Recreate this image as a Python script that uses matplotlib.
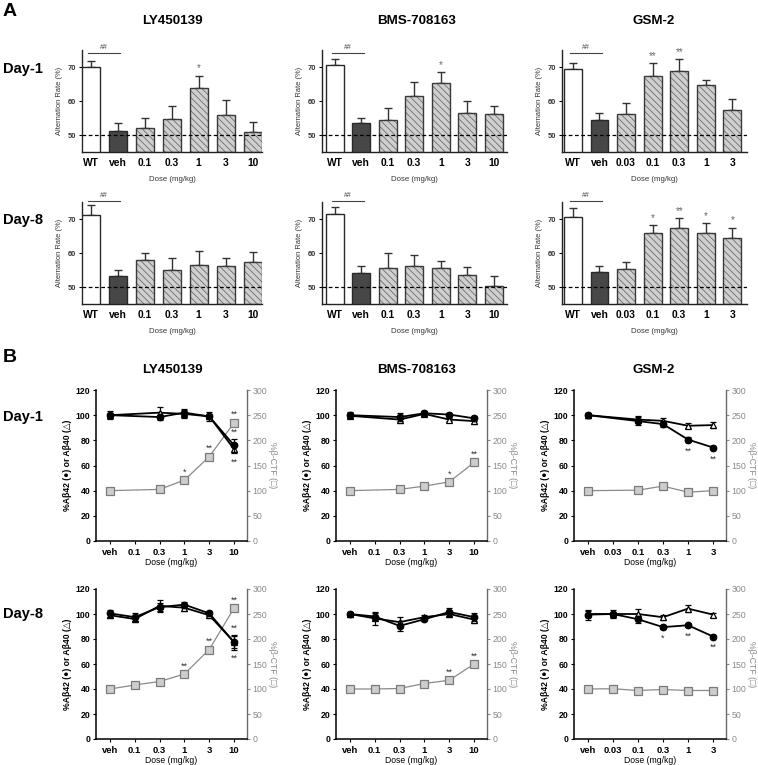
import matplotlib
matplotlib.use('Agg')
import matplotlib.pyplot as plt
import numpy as np

plt.rcParams['font.family'] = ['Liberation Sans', 'DejaVu Sans']
plt.rcParams['hatch.linewidth'] = 0.6
plt.rcParams['hatch.color'] = '#6e6e6e'

nan = np.nan

# ---------------- Panel A data (Alternation rate, %) ----------------
ly_doses_A = ['WT', 'veh', '0.1', '0.3', '1', '3', '10']
bms_doses_A = ['WT', 'veh', '0.1', '0.3', '1', '3', '10']
gsm_doses_A = ['WT', 'veh', '0.03', '0.1', '0.3', '1', '3']

ly_d1_mean = [70.0, 51.1, 52.0, 54.7, 63.9, 56.0, 51.0]
ly_d1_err = [1.8, 2.4, 3.1, 3.7, 3.6, 4.4, 2.9]
ly_d1_sig = ['', '', '', '', '*', '', '']

bms_d1_mean = [70.5, 53.4, 54.4, 61.4, 65.3, 56.4, 56.2]
bms_d1_err = [1.8, 1.6, 3.6, 4.2, 3.2, 3.7, 2.2]
bms_d1_sig = ['', '', '', '', '*', '', '']

gsm_d1_mean = [69.5, 54.5, 56.2, 67.5, 68.9, 64.6, 57.5]
gsm_d1_err = [1.7, 2.0, 3.2, 3.7, 3.5, 1.5, 3.0]
gsm_d1_sig = ['', '', '', '**', '**', '', '']

ly_d8_mean = [71.1, 53.2, 57.9, 55.1, 56.5, 56.2, 57.5]
ly_d8_err = [2.9, 1.8, 2.1, 3.3, 4.0, 2.4, 2.8]
ly_d8_sig = ['', '', '', '', '', '', '']

bms_d8_mean = [71.6, 54.2, 55.7, 56.1, 55.6, 53.6, 50.4]
bms_d8_err = [1.8, 2.1, 4.2, 3.3, 2.1, 2.4, 2.7]
bms_d8_sig = ['', '', '', '', '', '', '']

gsm_d8_mean = [70.5, 54.3, 55.2, 66.0, 67.5, 66.0, 64.3]
gsm_d8_err = [2.6, 2.0, 2.3, 2.2, 2.9, 2.8, 3.2]
gsm_d8_sig = ['', '', '', '*', '**', '*', '*']

# ---------------- Panel B data ----------------
ly_doses_B = ['veh', '0.1', '0.3', '1', '3', '10']
bms_doses_B = ['veh', '0.1', '0.3', '1', '3', '10']
gsm_doses_B = ['veh', '0.03', '0.1', '0.3', '1', '3']

# Day-1
ly_d1_ab42 = [100, nan, 98.5, 102, 99, 76]
ly_d1_ab42_err = [2, nan, 2, 3, 2, 5]
ly_d1_ab40 = [100, nan, 102, 101, 99, 73]
ly_d1_ab40_err = [3, nan, 4.5, 3.5, 3.5, 3]
ly_d1_ctf = [100, nan, 102.5, 121, 167.5, 235]
ly_d1_ctf_sig = ['', '', '', '*', '**', '**']
ly_d1_ab42_sig = ['', '', '', '', '', '**']
ly_d1_ab40_sig = ['', '', '', '', '', '**']

bms_d1_ab42 = [100, nan, 98.5, 101.5, 100.5, 97.5]
bms_d1_ab42_err = [2.5, nan, 3, 2, 1, 2]
bms_d1_ab40 = [99.5, nan, 96.5, 101, 96.5, 95.3]
bms_d1_ab40_err = [2, nan, 3, 2, 1.5, 2.5]
bms_d1_ctf = [100, nan, 102.5, 109, 117.5, 156]
bms_d1_ctf_sig = ['', '', '', '', '*', '**']
bms_d1_ab42_sig = ['', '', '', '', '', '']
bms_d1_ab40_sig = ['', '', '', '', '', '']

gsm_d1_ab42 = [100, nan, 95.3, 92.9, 80.6, 74.3]
gsm_d1_ab42_err = [2, nan, 3, 2.5, 2, 1.5]
gsm_d1_ab40 = [100, nan, 96.5, 95.5, 91.6, 92.1]
gsm_d1_ab40_err = [2, nan, 2.5, 2.5, 2, 2.5]
gsm_d1_ctf = [100, nan, 101, 109, 97, 100]
gsm_d1_ctf_sig = ['', '', '', '', '', '']
gsm_d1_ab42_sig = ['', '', '', '', '**', '**']
gsm_d1_ab40_sig = ['', '', '', '', '', '']

# Day-8
ly_d8_ab42 = [100.5, 97.5, 105.5, 107.5, 100.5, 77.4]
ly_d8_ab42_err = [3, 3, 3, 2, 2, 6]
ly_d8_ab40 = [99, 96, 106.5, 105, 99, 77.5]
ly_d8_ab40_err = [2, 2.5, 5, 2.5, 2, 5]
ly_d8_ctf = [100, 108, 115, 130, 179, 262]
ly_d8_ctf_sig = ['', '', '', '**', '**', '**']
ly_d8_ab42_sig = ['', '', '', '', '', '**']
ly_d8_ab40_sig = ['', '', '', '', '', '**']

bms_d8_ab42 = [100, 98, 90.5, 95.8, 101.6, 97.5]
bms_d8_ab42_err = [2, 2.5, 4, 1.5, 3.5, 3]
bms_d8_ab40 = [100, 96.5, 93.5, 97.5, 100, 95.5]
bms_d8_ab40_err = [1.5, 5, 4, 1.5, 2.5, 3]
bms_d8_ctf = [100, 100, 101, 111, 117.5, 150]
bms_d8_ctf_sig = ['', '', '', '', '**', '**']
bms_d8_ab42_sig = ['', '', '', '', '', '']
bms_d8_ab40_sig = ['', '', '', '', '', '']

gsm_d8_ab42 = [99.5, 100, 95.8, 89.5, 91, 82]
gsm_d8_ab42_err = [4, 3, 3, 1.5, 1, 1]
gsm_d8_ab40 = [100, 100, 100, 97.4, 104.3, 99.5]
gsm_d8_ab40_err = [2.5, 2, 4, 2, 3, 1.5]
gsm_d8_ctf = [100, 100.5, 97, 99, 97, 97]
gsm_d8_ctf_sig = ['', '', '', '', '', '']
gsm_d8_ab42_sig = ['', '', '', '*', '**', '**']
gsm_d8_ab40_sig = ['', '', '', '', '', '']

compounds = ['LY450139', 'BMS-708163', 'GSM-2']

# ---------------- figure ----------------
W, H = 758, 765
fig = plt.figure(figsize=(W / 100, H / 100), dpi=100)


def add_ax(l, t, r, b):
    return fig.add_axes([l / W, 1 - b / H, (r - l) / W, (b - t) / H])


def ftext(x, y, s, **kw):
    fig.text(x / W, 1 - y / H, s, **kw)


def bar_panel(ax, labels, mean, err, sig, xlim, bracket_y):
    x = np.arange(len(labels))
    colors = ['white', '#474747'] + ['#cfcfcf'] * (len(labels) - 2)
    hatches = ['', ''] + ['\\\\\\\\\\'] * (len(labels) - 2)
    for xi, m, c, h in zip(x, mean, colors, hatches):
        if h:
            ax.bar(xi, m - 45, bottom=45, width=0.67, color=c, hatch=h,
                   edgecolor='#6e6e6e', linewidth=0, zorder=2)
            ax.bar(xi, m - 45, bottom=45, width=0.67, fill=False,
                   edgecolor='#3a3a3a', linewidth=1.0, zorder=3)
        else:
            ax.bar(xi, m - 45, bottom=45, width=0.67, color=c,
                   edgecolor='#2a2a2a', linewidth=1.0, zorder=3)
    ax.errorbar(x, mean, yerr=[np.zeros(len(err)), err], fmt='none',
                ecolor='#333333', elinewidth=1.0, capsize=2.6, capthick=1.0,
                zorder=1)
    for xi, m, e, s in zip(x, mean, err, sig):
        if s:
            ax.text(xi, m + e + 0.6, s, ha='center', va='bottom',
                    fontsize=7, color='#666666')
    ax.axhline(50, color='black', lw=0.9, ls=(0, (3, 2)), zorder=4)
    ax.plot([-0.1, 1.1], [bracket_y, bracket_y], color='#444444', lw=0.8,
            clip_on=False)
    ax.text(0.5, bracket_y + 0.5, '##', ha='center', va='bottom',
            fontsize=5, color='#444444')
    ax.set_xlim(*xlim)
    ax.set_ylim(45, 75)
    ax.set_yticks([50, 60, 70])
    ax.set_xticks(x)
    ax.set_xticklabels(labels, fontsize=7.4, fontweight='bold')
    ax.tick_params(axis='x', length=0, pad=4)
    ax.tick_params(axis='y', length=2.5, width=0.8, labelsize=5.4, pad=1.5)
    for lab in ax.get_yticklabels():
        lab.set_fontweight('bold')
        lab.set_color('#333333')
    for sp in ['top', 'right']:
        ax.spines[sp].set_visible(False)
    for sp in ['left', 'bottom']:
        ax.spines[sp].set_linewidth(1.0)
        ax.spines[sp].set_color('#222222')
    ax.set_ylabel('Alternation Rate (%)', fontsize=5.4, labelpad=4,
                  color='#333333')
    ax.set_xlabel('Dose (mg/kg)', fontsize=5.6, labelpad=6, color='#333333')


def line_panel(ax, labels, ab42, ab42e, ab40, ab40e, ctf, ctf_sig,
               sig42, sig40, xlim):
    x = np.arange(len(labels))
    ab42 = np.array(ab42, float); ab40 = np.array(ab40, float)
    ab42e = np.array(ab42e, float); ab40e = np.array(ab40e, float)
    ctf = np.array(ctf, float)
    ax2 = ax.twinx()
    m = ~np.isnan(ctf)
    ax2.plot(x[m], ctf[m], color='#8a8a8a', lw=0.9, marker='s', ms=5.2,
             mfc='#cdcdcd', mec='#7a7a7a', mew=0.9, zorder=2)
    for xi, v, s in zip(x, ctf, ctf_sig):
        if s:
            ax2.text(xi, v + 7, s, ha='center', va='bottom', fontsize=6.5,
                     color='#333333')
    m = ~np.isnan(ab40)
    ax.errorbar(x[m], ab40[m], yerr=ab40e[m], color='black', lw=1.3,
                marker='^', ms=5, mfc='white', mec='black', mew=0.9,
                ecolor='black', elinewidth=0.9, capsize=2.2, capthick=0.9,
                zorder=5)
    m = ~np.isnan(ab42)
    ax.errorbar(x[m], ab42[m], yerr=ab42e[m], color='black', lw=1.3,
                marker='o', ms=4.6, mfc='black', mec='black',
                ecolor='black', elinewidth=0.9, capsize=2.2, capthick=0.9,
                zorder=6)
    for xi, v, e, s in zip(x, ab42, ab42e, sig42):
        if s:
            if sig40[xi]:
                ax.text(xi, v + e + 1.5, s, ha='center', va='bottom',
                        fontsize=6.5, color='#333333')
            else:
                ax.text(xi, v - e - 4, s, ha='center', va='top',
                        fontsize=6.5, color='#333333')
    for xi, v, e, s in zip(x, ab40, ab40e, sig40):
        if s:
            ax.text(xi, v - e - 4, s, ha='center', va='top', fontsize=6.5,
                    color='#333333')
    ax.set_zorder(ax2.get_zorder() + 1)
    ax.patch.set_visible(False)
    ax.set_xlim(*xlim)
    ax.set_ylim(0, 120)
    ax2.set_ylim(0, 300)
    ax.set_yticks(np.arange(0, 121, 20))
    ax2.set_yticks(np.arange(0, 301, 50))
    ax.set_xticks(x)
    ax.set_xticklabels(labels, fontsize=6.8, fontweight='bold')
    ax.tick_params(axis='x', length=2.5, width=0.8, pad=2.5)
    ax.tick_params(axis='y', length=2.5, width=0.8, labelsize=6.3, pad=1.5)
    for lab in ax.get_yticklabels():
        lab.set_fontweight('bold')
    ax2.tick_params(axis='y', length=2.5, width=0.8, labelsize=6.3, pad=1.5,
                    colors='#8a8a8a')
    ax.spines['top'].set_visible(False)
    ax2.spines['top'].set_visible(False)
    ax.spines['right'].set_visible(False)
    ax2.spines['left'].set_visible(False)
    ax2.spines['bottom'].set_visible(False)
    ax2.spines['right'].set_color('#6a6a6a')
    ax2.spines['right'].set_linewidth(1.0)
    for sp in ['left', 'bottom']:
        ax.spines[sp].set_linewidth(1.1)
    ax.set_ylabel('%A\u03b242 (\u25cf) or A\u03b240 (\u25b3)', fontsize=6.2,
                  fontweight='bold', labelpad=3)
    ax2.set_ylabel('%\u03b2-CTF (\u25a1)', fontsize=6.3, color='#8a8a8a',
                   rotation=270, labelpad=7)
    ax.set_xlabel('Dose (mg/kg)', fontsize=6.2, labelpad=1)


# Panel A layout
colsA = [(82, 262), (322, 507), (562, 747)]
xlimsA = [(-0.32, 6.35), (-0.48, 6.5), (-0.41, 6.55)]
labelsA = [ly_doses_A, bms_doses_A, gsm_doses_A]
d1A = [(ly_d1_mean, ly_d1_err, ly_d1_sig), (bms_d1_mean, bms_d1_err, bms_d1_sig),
       (gsm_d1_mean, gsm_d1_err, gsm_d1_sig)]
d8A = [(ly_d8_mean, ly_d8_err, ly_d8_sig), (bms_d8_mean, bms_d8_err, bms_d8_sig),
       (gsm_d8_mean, gsm_d8_err, gsm_d8_sig)]
for i in range(3):
    l, r = colsA[i]
    ax = add_ax(l, 50, r, 152)
    bar_panel(ax, labelsA[i], *d1A[i], xlimsA[i], 74.2)
    ax = add_ax(l, 202, r, 304)
    bar_panel(ax, labelsA[i], *d8A[i], xlimsA[i], 75.4)

# Panel B layout
colsB = [(96, 247), (336, 487), (574, 726)]
xlimsB = [(-0.56, 5.52), (-0.56, 5.52), (-0.56, 5.52)]
labelsB = [ly_doses_B, bms_doses_B, gsm_doses_B]
d1B = [(ly_d1_ab42, ly_d1_ab42_err, ly_d1_ab40, ly_d1_ab40_err, ly_d1_ctf,
        ly_d1_ctf_sig, ly_d1_ab42_sig, ly_d1_ab40_sig),
       (bms_d1_ab42, bms_d1_ab42_err, bms_d1_ab40, bms_d1_ab40_err, bms_d1_ctf,
        bms_d1_ctf_sig, bms_d1_ab42_sig, bms_d1_ab40_sig),
       (gsm_d1_ab42, gsm_d1_ab42_err, gsm_d1_ab40, gsm_d1_ab40_err, gsm_d1_ctf,
        gsm_d1_ctf_sig, gsm_d1_ab42_sig, gsm_d1_ab40_sig)]
d8B = [(ly_d8_ab42, ly_d8_ab42_err, ly_d8_ab40, ly_d8_ab40_err, ly_d8_ctf,
        ly_d8_ctf_sig, ly_d8_ab42_sig, ly_d8_ab40_sig),
       (bms_d8_ab42, bms_d8_ab42_err, bms_d8_ab40, bms_d8_ab40_err, bms_d8_ctf,
        bms_d8_ctf_sig, bms_d8_ab42_sig, bms_d8_ab40_sig),
       (gsm_d8_ab42, gsm_d8_ab42_err, gsm_d8_ab40, gsm_d8_ab40_err, gsm_d8_ctf,
        gsm_d8_ctf_sig, gsm_d8_ab42_sig, gsm_d8_ab40_sig)]
for i in range(3):
    l, r = colsB[i]
    ax = add_ax(l, 390, r, 541)
    line_panel(ax, labelsB[i], *d1B[i], xlimsB[i])
    ax = add_ax(l, 589, r, 739)
    line_panel(ax, labelsB[i], *d8B[i], xlimsB[i])

# texts
ftext(3, 12, 'A', fontsize=14, fontweight='bold', va='center', ha='left')
ftext(3, 358, 'B', fontsize=14, fontweight='bold', va='center', ha='left')
for cx, name in zip([172, 417, 654], compounds):
    ftext(cx, 21, name, fontsize=9.6, fontweight='bold', ha='center', va='center')
    ftext(cx, 370, name, fontsize=9.6, fontweight='bold', ha='center', va='center')
ftext(3, 69, 'Day-1', fontsize=10.5, fontweight='bold', va='center', ha='left')
ftext(3, 220, 'Day-8', fontsize=10.5, fontweight='bold', va='center', ha='left')
ftext(3, 417, 'Day-1', fontsize=10.5, fontweight='bold', va='center', ha='left')
ftext(3, 614, 'Day-8', fontsize=10.5, fontweight='bold', va='center', ha='left')

fig.savefig('out.png', dpi=100)
